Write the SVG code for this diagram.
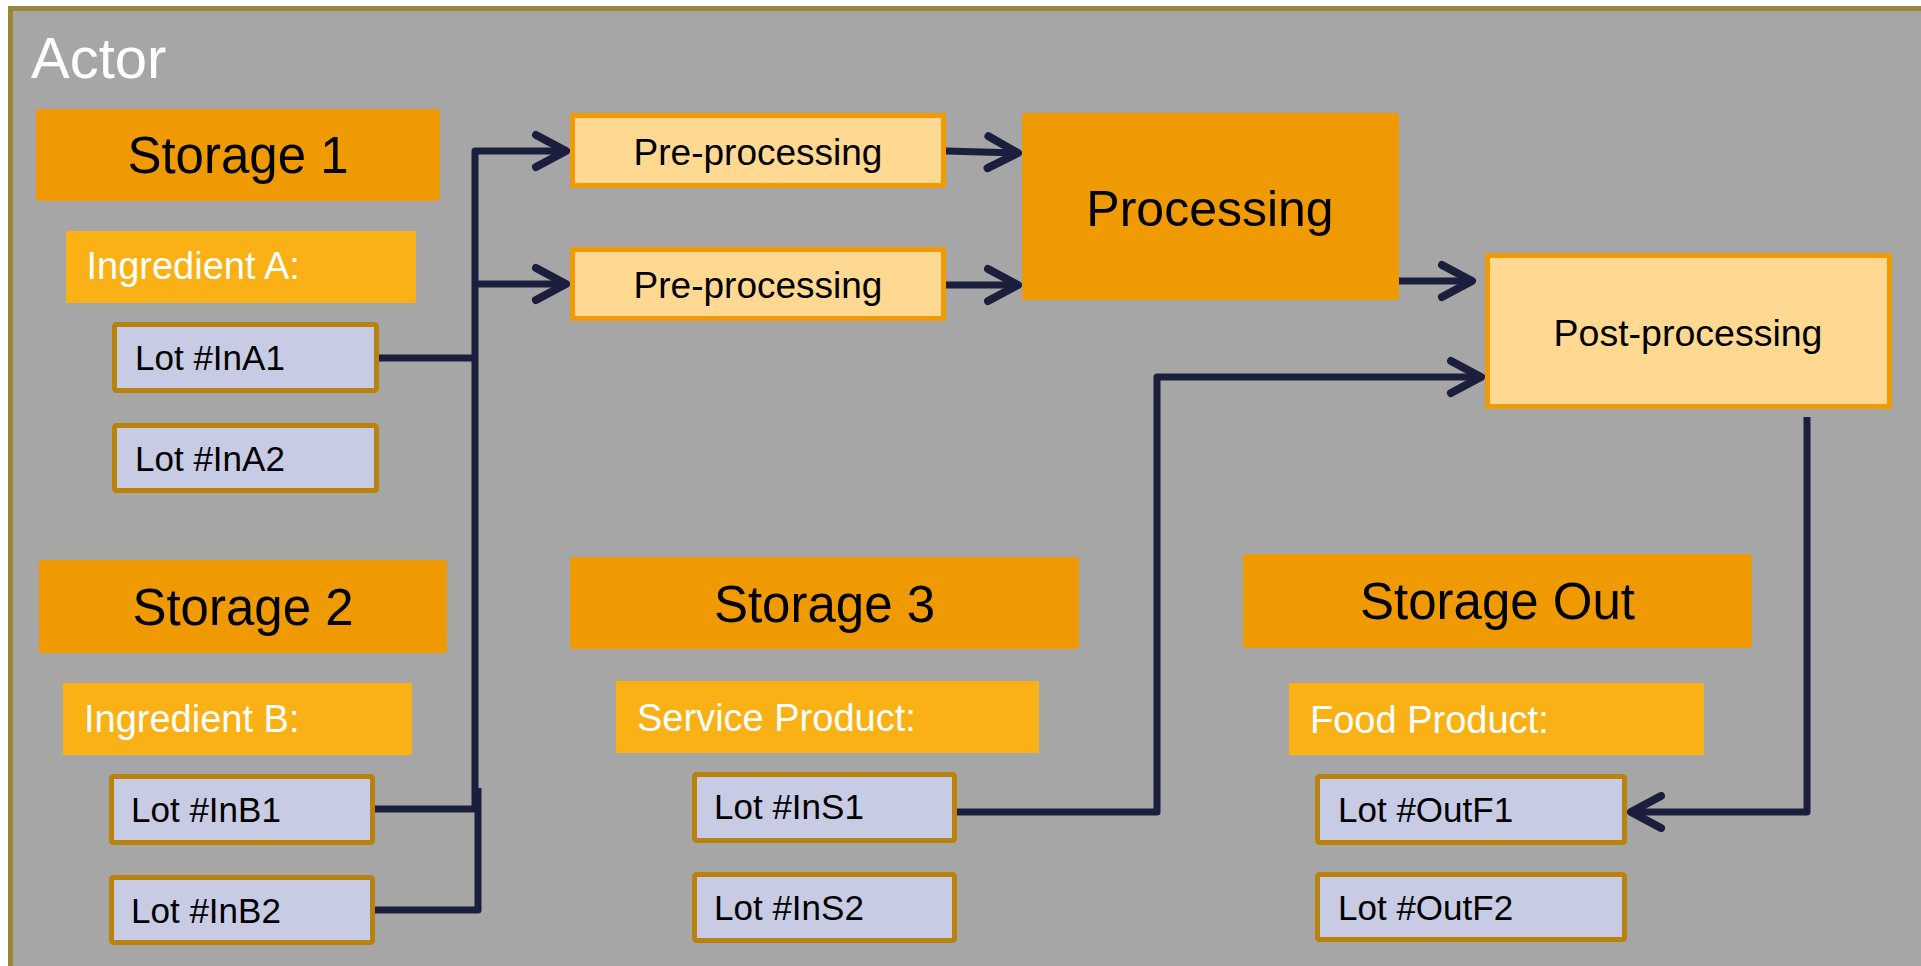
<svg xmlns="http://www.w3.org/2000/svg" width="1921" height="966" viewBox="0 0 1921 966">
<defs>
<style>
text{font-family:"Liberation Sans",Arial,sans-serif}
.storage{fill:#EF9A03}
.ingr{fill:#F9B115}
.lot{fill:#C8CBE4;stroke:#B9820C;stroke-width:5}
.proc{fill:#FFD892;stroke:#F09A06;stroke-width:5}
.st{font-size:51px;fill:#000;text-anchor:middle}
.it{font-size:38px;fill:#fff}
.lt{font-size:35px;fill:#000}
.pt{font-size:37px;fill:#000;text-anchor:middle}
.conn{fill:none;stroke:#1B1F3D;stroke-width:7;stroke-linejoin:round}
</style>
<marker id="arr" markerUnits="userSpaceOnUse" viewBox="-40 -22 48 44" markerWidth="48" markerHeight="44" refX="0" refY="0" orient="auto">
<path d="M-30,-16 L0,0 L-30,16" fill="none" stroke="#1B1F3D" stroke-width="8" stroke-linecap="round" stroke-linejoin="round"/>
</marker>
</defs>
<rect x="0" y="0" width="1921" height="966" fill="#fff"/>
<g id="actor">
<rect x="10.5" y="8.5" width="1930" height="962" fill="#A6A6A6" stroke="#9B8538" stroke-width="5"/>
<text x="31" y="78" style="font-size:58px;fill:#fff">Actor</text>
</g>
<g id="connectors">
<path class="conn" d="M379,358 H475"/>
<path class="conn" d="M475,809 V151 H566" marker-end="url(#arr)"/>
<path class="conn" d="M475,284 H566" marker-end="url(#arr)"/>
<path class="conn" d="M375,809 H475"/>
<path class="conn" d="M375,910 H478 V788"/>
<path class="conn" d="M946,151 L1018,153" marker-end="url(#arr)"/>
<path class="conn" d="M946,285 H1018" marker-end="url(#arr)"/>
<path class="conn" d="M1399,281 H1472" marker-end="url(#arr)"/>
<path class="conn" d="M957,812 H1157 V377 H1481" marker-end="url(#arr)"/>
<path class="conn" d="M1807,417 V812 H1631" marker-end="url(#arr)"/>
</g>
<g id="storage1">
<rect class="storage" x="36" y="109" width="404" height="92" rx="3"/>
<text class="st" x="238" y="173">Storage 1</text>
</g>
<g id="ingredientA">
<rect class="ingr" x="66" y="231" width="350" height="72"/>
<text class="it" x="86.5" y="279">Ingredient A:</text>
</g>
<g id="lotInA1">
<rect class="lot" x="114.5" y="324.5" width="262" height="66" rx="2"/>
<text class="lt" x="135" y="370">Lot #InA1</text>
</g>
<g id="lotInA2">
<rect class="lot" x="114.5" y="425.5" width="262" height="65" rx="2"/>
<text class="lt" x="135" y="471">Lot #InA2</text>
</g>
<g id="storage2">
<rect class="storage" x="39" y="560" width="408" height="93" rx="3"/>
<text class="st" x="243" y="625">Storage 2</text>
</g>
<g id="ingredientB">
<rect class="ingr" x="63" y="683" width="349" height="72"/>
<text class="it" x="84" y="732">Ingredient B:</text>
</g>
<g id="lotInB1">
<rect class="lot" x="111.5" y="776.5" width="261" height="66" rx="2"/>
<text class="lt" x="131" y="822">Lot #InB1</text>
</g>
<g id="lotInB2">
<rect class="lot" x="111.5" y="877.5" width="261" height="65" rx="2"/>
<text class="lt" x="131" y="923">Lot #InB2</text>
</g>
<g id="preprocessing1">
<rect class="proc" x="572.5" y="115.5" width="371" height="70"/>
<text class="pt" x="758" y="165">Pre-processing</text>
</g>
<g id="preprocessing2">
<rect class="proc" x="572.5" y="249.5" width="371" height="69"/>
<text class="pt" x="758" y="298">Pre-processing</text>
</g>
<g id="processing">
<rect class="storage" x="1022" y="113" width="377" height="187" rx="3"/>
<text x="1210" y="226" style="font-size:50px;text-anchor:middle;fill:#000">Processing</text>
</g>
<g id="postprocessing">
<rect class="proc" x="1487.5" y="255.5" width="402" height="151"/>
<text class="pt" x="1688" y="346" style="font-size:37.5px">Post-processing</text>
</g>
<g id="storage3">
<rect class="storage" x="570" y="557" width="509" height="92" rx="3"/>
<text class="st" x="824.5" y="622">Storage 3</text>
</g>
<g id="serviceProduct">
<rect class="ingr" x="616" y="681" width="423" height="72"/>
<text class="it" x="637" y="731">Service Product:</text>
</g>
<g id="lotInS1">
<rect class="lot" x="694.5" y="774.5" width="260" height="66" rx="2"/>
<text class="lt" x="714" y="819">Lot #InS1</text>
</g>
<g id="lotInS2">
<rect class="lot" x="694.5" y="874.5" width="260" height="66" rx="2"/>
<text class="lt" x="714" y="920">Lot #InS2</text>
</g>
<g id="storageOut">
<rect class="storage" x="1243" y="554" width="509" height="94" rx="3"/>
<text class="st" x="1497.5" y="619">Storage Out</text>
</g>
<g id="foodProduct">
<rect class="ingr" x="1289" y="683" width="415" height="72"/>
<text class="it" x="1310" y="733">Food Product:</text>
</g>
<g id="lotOutF1">
<rect class="lot" x="1317.5" y="776.5" width="307" height="66" rx="2"/>
<text class="lt" x="1338" y="822">Lot #OutF1</text>
</g>
<g id="lotOutF2">
<rect class="lot" x="1317.5" y="874.5" width="307" height="65" rx="2"/>
<text class="lt" x="1338" y="920">Lot #OutF2</text>
</g>
</svg>
